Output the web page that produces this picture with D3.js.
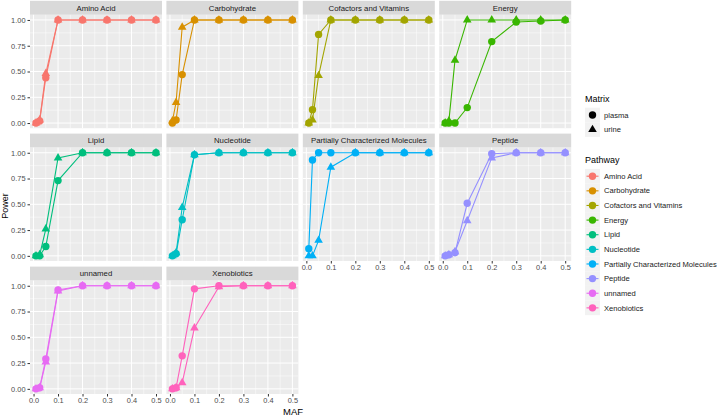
<!DOCTYPE html>
<html><head><meta charset="utf-8">
<script src="https://cdn.jsdelivr.net/npm/d3@7"></script>
<style>body{margin:0;background:#fff;} svg{display:block;font-family:"Liberation Sans",Arial,sans-serif;}</style>
</head><body><svg id="c" width="717" height="415"></svg>
<script>
const maf = [0.01, 0.025, 0.05, 0.1, 0.2, 0.3, 0.4, 0.5];
const pathways = ["Amino Acid","Carbohydrate","Cofactors and Vitamins","Energy","Lipid","Nucleotide","Partially Characterized Molecules","Peptide","unnamed","Xenobiotics"];
const colors = ["#F8766D","#D89000","#A3A500","#39B600","#00BF7D","#00BFC4","#00B0F6","#9590FF","#E76BF3","#FF62BC"];
const matrices = ["plasma","urine"];
const plasma = [
  [0.00,0.02,0.44,1,1,1,1,1],
  [0.00,0.03,0.47,1,1,1,1,1],
  [0.00,0.13,0.86,1,1,1,1,1],
  [0.00,0.00,0.00,0.15,0.79,0.98,0.99,1],
  [0.00,0.00,0.09,0.73,1,1,1,1],
  [0.00,0.02,0.35,0.98,1,1,1,1],
  [0.07,0.93,1,1,1,1,1,1],
  [0.00,0.01,0.03,0.51,0.99,1,1,1],
  [0.00,0.01,0.29,0.96,1,1,1,1],
  [0.00,0.01,0.32,0.97,1,1,1,1]
];
const urine = [
  [0.00,0.03,0.48,1,1,1,1,1],
  [0.02,0.20,0.93,1,1,1,1,1],
  [0.00,0.03,0.46,1,1,1,1,1],
  [0.00,0.02,0.61,1,1,1,1,1],
  [0.00,0.01,0.26,0.95,1,1,1,1],
  [0.00,0.03,0.47,0.98,1,1,1,1],
  [0.00,0.00,0.15,0.86,1,1,1,1],
  [0.00,0.01,0.04,0.34,0.95,1,1,1],
  [0.00,0.01,0.26,0.95,1,1,1,1],
  [0.00,0.01,0.06,0.59,0.99,1,1,1]
];
const xTicks = [0,0.1,0.2,0.3,0.4,0.5];
const xMinor = [0.05,0.15,0.25,0.35,0.45];
const yTicks = [0,0.25,0.5,0.75,1];
const yMinor = [0.125,0.375,0.625,0.875];

const svg = d3.select("#c");
const colLeft = [30, 166.4, 302.8, 439.2];
const pw = 132, ph = 113.4, stripH = 14;
const rowTop = [14.8, 147.6, 280.6];

const xr = maf[maf.length-1]-maf[0];
const x = d3.scaleLinear().domain([maf[0]-0.05*xr, maf[maf.length-1]+0.05*xr]).range([0,pw]);
const y = d3.scaleLinear().domain([-0.05,1.05]).range([ph,0]);

function tri(s){const h=s*Math.sqrt(3)/2;return `M0,${-h*2/3}L${s/2},${h/3}L${-s/2},${h/3}Z`;}
const shapes = {plasma: g=>g.append("circle").attr("r",3.7), urine: g=>g.append("path").attr("d",tri(8.6))};

pathways.forEach((p,i)=>{
  const r = Math.floor(i/4), c = i%4;
  const g = svg.append("g").attr("transform",`translate(${colLeft[c]},${rowTop[r]})`);
  g.append("rect").attr("x",0).attr("y",-stripH).attr("width",pw).attr("height",stripH).attr("fill","#d9d9d9");
  g.append("text").attr("x",pw/2).attr("y",-stripH/2).attr("dy","0.35em").attr("text-anchor","middle")
    .attr("font-size",7.8).attr("fill","#1a1a1a").text(p);
  g.append("rect").attr("width",pw).attr("height",ph).attr("fill","#ebebeb");
  xMinor.forEach(v=>g.append("line").attr("x1",x(v)).attr("x2",x(v)).attr("y1",0).attr("y2",ph).attr("stroke","#fff").attr("stroke-width",0.5));
  yMinor.forEach(v=>g.append("line").attr("y1",y(v)).attr("y2",y(v)).attr("x1",0).attr("x2",pw).attr("stroke","#fff").attr("stroke-width",0.5));
  xTicks.forEach(v=>g.append("line").attr("x1",x(v)).attr("x2",x(v)).attr("y1",0).attr("y2",ph).attr("stroke","#fff").attr("stroke-width",1));
  yTicks.forEach(v=>g.append("line").attr("y1",y(v)).attr("y2",y(v)).attr("x1",0).attr("x2",pw).attr("stroke","#fff").attr("stroke-width",1));
  if(c===0){
    const ya = g.append("g").call(d3.axisLeft(y).tickValues(yTicks).tickFormat(d3.format(".2f")).tickSize(2.5).tickPadding(2));
    ya.select(".domain").remove();
    ya.selectAll("line").attr("stroke","#333");
    ya.selectAll("text").attr("font-size",7.4).attr("fill","#4d4d4d").attr("font-family","Liberation Sans, Arial, sans-serif");
  }
  const isBottom = (i+4>=pathways.length);
  if(isBottom){
    const xa = g.append("g").attr("transform",`translate(0,${ph})`).call(d3.axisBottom(x).tickValues(xTicks).tickFormat(d3.format(".1f")).tickSize(2.5).tickPadding(1.5));
    xa.select(".domain").remove();
    xa.selectAll("line").attr("stroke","#333");
    xa.selectAll("text").attr("font-size",7.4).attr("fill","#4d4d4d").attr("font-family","Liberation Sans, Arial, sans-serif");
  }
  const series = {plasma: plasma[i], urine: urine[i]};
  const line = d3.line().x((d,k)=>x(maf[k])).y(d=>y(d));
  matrices.forEach(m=>{
    g.append("path").attr("d",line(series[m])).attr("fill","none").attr("stroke",colors[i]).attr("stroke-width",1.1);
  });
  matrices.forEach(m=>{
    series[m].forEach((v,k)=>{
      const pg = g.append("g").attr("transform",`translate(${x(maf[k])},${y(v)})`).attr("fill",colors[i]);
      shapes[m](pg);
    });
  });
});

svg.append("text").attr("x",293).attr("y",414.5).attr("text-anchor","middle").attr("font-size",9.5).attr("fill","#000").text("MAF");
svg.append("text").attr("transform","translate(8,206) rotate(-90)").attr("text-anchor","middle").attr("font-size",9).attr("fill","#000").text("Power");

const lx = 585;
svg.append("text").attr("x",lx).attr("y",102).attr("font-size",9).attr("fill","#000").text("Matrix");
matrices.forEach((m,k)=>{
  const cy = 115 + k*14.6;
  svg.append("rect").attr("x",lx).attr("y",cy-7.3).attr("width",15).attr("height",14.6).attr("fill","#f2f2f2");
  const pg = svg.append("g").attr("transform",`translate(${lx+7.5},${cy})`).attr("fill","#000");
  shapes[m](pg);
  svg.append("text").attr("x",604).attr("y",cy).attr("dy","0.35em").attr("font-size",7.6).attr("fill","#1a1a1a").text(m);
});
svg.append("text").attr("x",lx).attr("y",163).attr("font-size",9).attr("fill","#000").text("Pathway");
pathways.forEach((p,k)=>{
  const cy = 176.2 + k*14.63;
  svg.append("rect").attr("x",lx).attr("y",cy-7.3).attr("width",15).attr("height",14.6).attr("fill","#f2f2f2");
  svg.append("line").attr("x1",lx+1.5).attr("x2",lx+13.5).attr("y1",cy).attr("y2",cy).attr("stroke",colors[k]).attr("stroke-width",1.1);
  svg.append("circle").attr("cx",lx+7.5).attr("cy",cy).attr("r",3.7).attr("fill",colors[k]);
  svg.append("text").attr("x",604).attr("y",cy).attr("dy","0.35em").attr("font-size",7.6).attr("fill","#1a1a1a").text(p);
});
</script></body></html>
